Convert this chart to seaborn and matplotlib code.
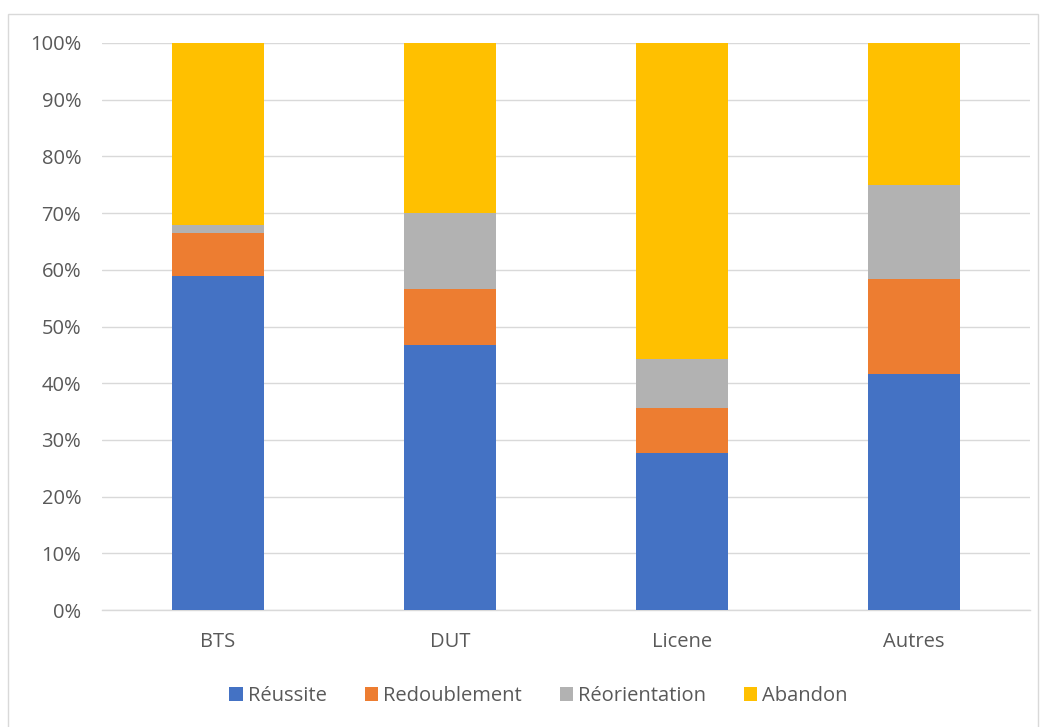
import numpy as np
import pandas as pd
import matplotlib
matplotlib.use("Agg")
import matplotlib.pyplot as plt
import seaborn as sns
from matplotlib.patches import Rectangle, Patch
from matplotlib.ticker import PercentFormatter

categories = ["BTS", "DUT", "Licene", "Autres"]
series = ["Réussite", "Redoublement", "Réorientation", "Abandon"]
reussite = [58.9, 46.7, 27.7, 41.7]
redoublement = [7.6, 10.0, 7.9, 16.7]
reorientation = [1.4, 13.3, 8.7, 16.6]
abandon = [32.1, 30.0, 55.7, 25.0]
colors = ["#4472C4", "#ED7D31", "#B2B2B2", "#FFC000"]

sns.set_theme(style="white")
plt.rcParams["font.family"] = ["Open Sans", "DejaVu Sans"]

fig = plt.figure(figsize=(10.46, 7.27), dpi=100)
ax = fig.add_axes([102 / 1046, 1 - 610 / 727, 928 / 1046, 567 / 727])

fig.patches.append(Rectangle((8 / 1046, -0.01), 1030 / 1046, 1 - 14 / 727 + 0.01,
                             transform=fig.transFigure, fill=False,
                             edgecolor="#d9d9d9", linewidth=1))

values = [reussite, redoublement, reorientation, abandon]
bottom = np.zeros(len(categories))
for name, vals, col in zip(series, values, colors):
    df = pd.DataFrame({"cat": categories, "val": vals})
    sns.barplot(data=df, x="cat", y="val", bottom=bottom, color=col, width=0.4,
                saturation=1, ax=ax, zorder=3, edgecolor="none")
    bottom = bottom + np.array(vals)

ax.set_ylim(0, 100)
ax.set_xlim(-0.5, 3.5)
ax.set_yticks(np.arange(0, 101, 10))
ax.yaxis.set_major_formatter(PercentFormatter(decimals=0))
ax.grid(axis="y", color="#d9d9d9", linewidth=1, zorder=0)
ax.set_axisbelow(True)
for s in ["top", "right", "left"]:
    ax.spines[s].set_visible(False)
ax.spines["bottom"].set_color("#d9d9d9")
ax.spines["bottom"].set_linewidth(1)
ax.tick_params(axis="both", length=0, labelsize=14.5, labelcolor="#595959")
ax.tick_params(axis="y", pad=15)
ax.tick_params(axis="x", pad=16)
ax.set_xlabel("")
ax.set_ylabel("")

handles = [Patch(facecolor=c, edgecolor="none") for c in colors]
fig.legend(handles, series, loc="center", bbox_to_anchor=(0.515, 1 - 696 / 727),
           ncol=4, frameon=False, fontsize=14.5, handlelength=0.65, handleheight=0.65,
           handletextpad=0.25, columnspacing=1.9, labelcolor="#595959")

fig.savefig("out.png", dpi=100)
